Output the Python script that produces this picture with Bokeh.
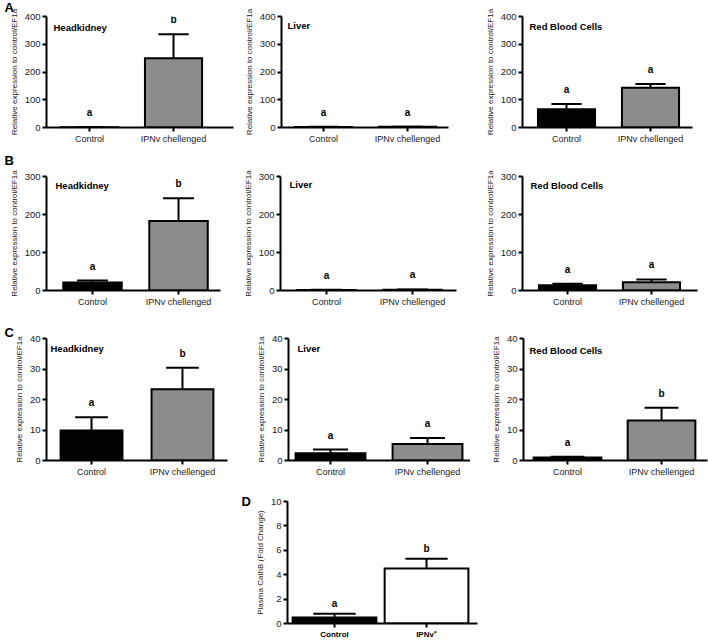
from bokeh.plotting import figure
from bokeh.models import Range1d, FixedTicker, Label, ColumnDataSource, Spacer
from bokeh.layouts import column, row
from bokeh.embed import file_html
from bokeh.resources import INLINE
from bokeh.core.properties import value

# ---------------- data ----------------
groups = ["Control", "IPNv chellenged"]
groups_d = ["Control", "IPNv\u207a"]
ylabel_expr = "Relative expression to control/EF1a"
ylabel_d = "Plasma CathB (Fold Change)"

yticks_a = [0, 100, 200, 300, 400]
yticks_b = [0, 100, 200, 300]
yticks_c = [0, 10, 20, 30, 40]
yticks_d = [0, 2, 4, 6, 8, 10]

a_headkidney = [0.5, 250]
a_headkidney_err = [0, 86]
a_headkidney_sig = ["a", "b"]
a_liver = [2, 2.5]
a_liver_err = [0.5, 0.5]
a_liver_sig = ["a", "a"]
a_rbc = [66, 143]
a_rbc_err = [19, 14]
a_rbc_sig = ["a", "a"]

b_headkidney = [21, 183]
b_headkidney_err = [5, 60]
b_headkidney_sig = ["a", "b"]
b_liver = [1.5, 2]
b_liver_err = [0.5, 0.8]
b_liver_sig = ["a", "a"]
b_rbc = [14, 22]
b_rbc_err = [4, 7]
b_rbc_sig = ["a", "a"]

c_headkidney = [9.8, 23.4]
c_headkidney_err = [4.4, 7.0]
c_headkidney_sig = ["a", "b"]
c_liver = [2.4, 5.4]
c_liver_err = [1.2, 2.0]
c_liver_sig = ["a", "a"]
c_rbc = [1.0, 13.1]
c_rbc_err = [0.2, 4.2]
c_rbc_sig = ["a", "b"]

d_plasma = [0.5, 4.5]
d_plasma_err = [0.3, 0.8]
d_plasma_sig = ["a", "b"]

FONT = "Liberation Sans"
GREY = "#8c8c8c"


def panel(vals, errs, sig, title, ymax, yticks, xr, borders, width, height,
          bar_w=0.68, cap_w=0.36, fills=("#000000", GREY), ylabel=ylabel_expr,
          xlabels=groups, xbold=False, letter=None, letter_x=-42,
          letter_standoff=0, letter_valign="top", sig_off=-9, title_off=(7, -4)):
    left, right, top, bottom = borders
    p = figure(width=width, height=height, output_backend="svg",
               toolbar_location=None, x_range=Range1d(*xr),
               y_range=Range1d(0, ymax), min_border_left=left,
               min_border_right=right, min_border_top=top,
               min_border_bottom=bottom)
    p.outline_line_color = None
    p.grid.visible = False
    p.background_fill_color = "white"
    p.border_fill_color = "white"
    xs = list(range(len(vals)))
    hi = [v + e for v, e in zip(vals, errs)]
    src = ColumnDataSource(dict(
        x=xs, top=vals, hi=hi, fill=list(fills), sig=sig,
        cl=[x - cap_w / 2 for x in xs], cr=[x + cap_w / 2 for x in xs]))
    p.vbar(x="x", top="top", bottom=0, width=bar_w, fill_color="fill",
           line_color="black", line_width=2, line_join="miter", source=src)
    p.segment(x0="x", y0="top", x1="x", y1="hi", line_color="black",
              line_width=2, source=src)
    p.segment(x0="cl", y0="hi", x1="cr", y1="hi", line_color="black",
              line_width=2, source=src)
    p.text(x="x", y="hi", text="sig", text_font=value(FONT),
           text_font_style="bold", text_font_size="10px", text_align="center",
           text_baseline="bottom", y_offset=sig_off, text_color="black",
           source=src)
    for ax in (p.xaxis[0], p.yaxis[0]):
        ax.axis_line_width = 2
        ax.axis_line_color = "black"
        ax.major_tick_line_width = 2
        ax.major_tick_line_color = "black"
        ax.major_tick_out = 4
        ax.major_tick_in = 0
        ax.minor_tick_line_color = None
        ax.major_label_text_font = FONT
        ax.major_label_text_font_size = "9px"
        ax.major_label_text_color = "#222222"
        ax.major_label_standoff = 2
    p.yaxis.major_label_text_font_size = "9.5px"
    p.xaxis.ticker = FixedTicker(ticks=xs)
    p.xaxis.major_label_overrides = {i: g for i, g in enumerate(xlabels)}
    if xbold:
        p.xaxis.major_label_text_font_style = "bold"
        p.xaxis.major_label_text_font_size = "8px"
        p.xaxis.major_label_text_color = "black"
    p.yaxis.ticker = FixedTicker(ticks=yticks)
    p.yaxis.axis_label = ylabel
    p.yaxis.axis_label_text_font = FONT
    p.yaxis.axis_label_text_font_size = "8px"
    p.yaxis.axis_label_text_font_style = "normal"
    p.yaxis.axis_label_text_color = "#222222"
    p.yaxis.axis_label_standoff = 3
    if title:
        p.add_layout(Label(x=xr[0], y=ymax, x_offset=title_off[0],
                           y_offset=title_off[1], text=title,
                           text_font=FONT, text_font_style="bold",
                           text_font_size="9.5px", text_baseline="top",
                           text_align="left", text_color="black"))
    if letter:
        t = p.title
        t.text = letter
        t.align = "left"
        t.offset = letter_x
        t.standoff = letter_standoff
        t.vertical_align = letter_valign
        t.text_font = FONT
        t.text_font_size = "13px"
        t.text_font_style = "bold"
        t.text_color = "black"
    return p


HA, HB, HC, HD = 147, 178, 170, 147

a1 = panel(a_headkidney, a_headkidney_err, a_headkidney_sig, "Headkidney", 400,
           yticks_a, (-0.512, 1.714), (46, 7, 0, 20), 240, HA, title_off=(7, -5),
           letter="A", letter_x=-42, letter_standoff=-1.5, letter_valign="top")
a2 = panel(a_liver, a_liver_err, a_liver_sig, "Liver", 400, yticks_a,
           (-0.5, 1.488), (41, 22, 15, 20), 230, HA, title_off=(6, -3))
a3 = panel(a_rbc, a_rbc_err, a_rbc_sig, "Red Blood Cells", 400, yticks_a,
           (-0.524, 1.5), (52, 16, 15, 20), 238, HA, title_off=(7, -4))

b1 = panel(b_headkidney, b_headkidney_err, b_headkidney_sig, "Headkidney", 300,
           yticks_b, (-0.535, 1.488), (46, 20, 0, 35), 240, HB,
           title_off=(9, -3), letter="B", letter_x=-42, letter_standoff=11.5,
           letter_valign="top")
b2 = panel(b_liver, b_liver_err, b_liver_sig, "Liver", 300, yticks_b,
           (-0.535, 1.512), (40, 14, 28, 35), 230, HB, title_off=(9, -2))
b3 = panel(b_rbc, b_rbc_err, b_rbc_sig, "Red Blood Cells", 300, yticks_b,
           (-0.536, 1.548), (52, 11, 28, 35), 238, HB, title_off=(8, -3))

c1 = panel(c_headkidney, c_headkidney_err, c_headkidney_sig, "Headkidney", 40,
           yticks_c, (-0.495, 1.495), (46, 13, 0, 35), 240, HC,
           title_off=(4, -4), letter="C", letter_x=-42, letter_standoff=-4.5,
           letter_valign="middle")
c2 = panel(c_liver, c_liver_err, c_liver_sig, "Liver", 40, yticks_c,
           (-0.433, 1.443), (48, 0, 12, 35), 230, HC, bar_w=0.72,
           title_off=(9, -4))
c3 = panel(c_rbc, c_rbc_err, c_rbc_sig, "Red Blood Cells", 40, yticks_c,
           (-0.468, 1.489), (53, 1, 12, 35), 238, HC, bar_w=0.72,
           title_off=(6, -6))

d1 = panel(d_plasma, d_plasma_err, d_plasma_sig, None, 10, yticks_d,
           (-0.511, 1.554), (47, 8, 6, 19), 245, HD, bar_w=0.91, cap_w=0.46,
           fills=("#000000", "#ffffff"), ylabel=ylabel_d, xlabels=groups_d,
           xbold=True, letter="D", letter_x=-46, letter_standoff=-14,
           letter_valign="bottom", sig_off=-5)

layout = column(
    row(a1, a2, a3),
    row(b1, b2, b3),
    row(c1, c2, c3),
    row(Spacer(width=240, height=HD), d1),
)

open("out.html", "w").write(file_html(layout, INLINE))
